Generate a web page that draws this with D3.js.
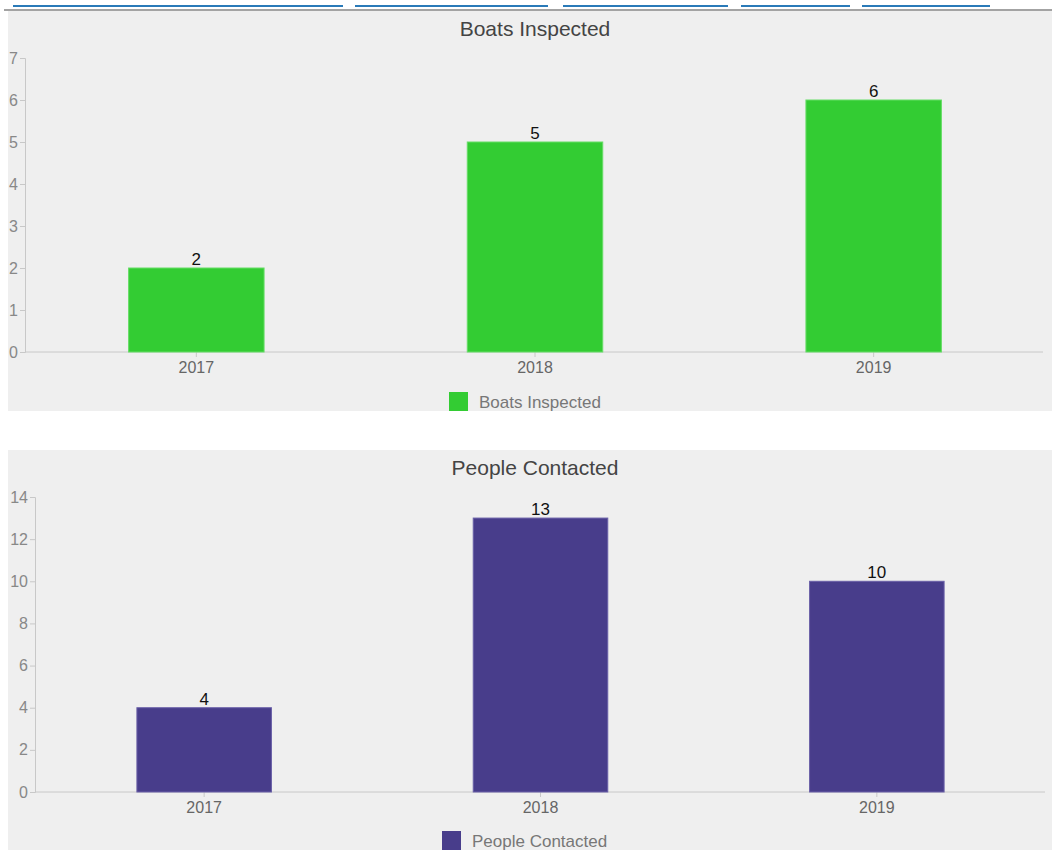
<!DOCTYPE html>
<html>
<head>
<meta charset="utf-8">
<script src="https://cdn.jsdelivr.net/npm/d3@7"></script>
<style>
  body { margin: 0; background: #fff; font-family: "Liberation Sans", Arial, sans-serif; }
  svg { display: block; }
</style>
</head>
<body>
<svg id="root" width="1052" height="850"></svg>
<script>
(function() {
  // Data
  const years = ["2017", "2018", "2019"];
  const boatsInspected = [2, 5, 6];
  const peopleContacted = [4, 13, 10];
  const boatsTicks = [0, 1, 2, 3, 4, 5, 6, 7];
  const peopleTicks = [0, 2, 4, 6, 8, 10, 12, 14];
  const tabSegments = [[13, 343], [355, 548], [563, 728], [741, 850], [862, 990]];

  const svg = d3.select("#root");
  const font = "Liberation Sans, Arial, sans-serif";

  // Tab strip on top
  svg
    .selectAll(".tab")
    .data(tabSegments)
    .join("line")
    .attr("class", "tab")
    .attr("x1", d => d[0])
    .attr("x2", d => d[1])
    .attr("y1", 6)
    .attr("y2", 6)
    .attr("stroke", "#2a7ab8")
    .attr("stroke-width", 2);
  svg
    .append("line")
    .attr("x1", 4)
    .attr("x2", 1052)
    .attr("y1", 10)
    .attr("y2", 10)
    .attr("stroke", "#a3a3a3")
    .attr("stroke-width", 2);

  drawChart({
    top: 11,
    title: "Boats Inspected",
    values: boatsInspected,
    ticks: boatsTicks,
    color: "#33cc33",
    stroke: "#66dd66",
    axisX: 25,
    axisBottom: 352,
    axisTop: 58,
    range: [27, 1043],
    legendX: 449
  });

  drawChart({
    top: 450,
    title: "People Contacted",
    values: peopleContacted,
    ticks: peopleTicks,
    color: "#483d8b",
    stroke: "#6a60a8",
    axisX: 35,
    axisBottom: 792,
    axisTop: 497,
    range: [36, 1045],
    legendX: 442
  });

  function drawChart(c) {
    const g = svg.append("g");
    g.append("rect")
      .attr("x", 8)
      .attr("y", c.top)
      .attr("width", 1044)
      .attr("height", 400)
      .attr("fill", "#efefef");

    g.append("text")
      .attr("x", 535)
      .attr("y", c.top + 25)
      .attr("text-anchor", "middle")
      .attr("font-size", 21)
      .attr("fill", "#444")
      .text(c.title);

    const x = d3
      .scaleBand()
      .domain(years)
      .range(c.range);
    const y = d3
      .scaleLinear()
      .domain([0, d3.max(c.ticks)])
      .range([c.axisBottom, c.axisTop]);
    const barWidth = x.bandwidth() * 0.4;

    g.append("g")
      .attr("transform", `translate(${c.axisX},0)`)
      .call(
        d3.axisLeft(y)
          .tickValues(c.ticks)
          .tickFormat(d3.format("d"))
          .tickSize(5)
          .tickPadding(2)
      )
      .call(a => a.select(".domain").attr("stroke", "#c8c8c8"))
      .call(a => a.selectAll(".tick line").attr("stroke", "#c8c8c8"))
      .call(a =>
        a.selectAll(".tick text")
          .attr("fill", "#888")
          .attr("font-size", 16)
          .attr("font-family", font)
      );

    g.append("g")
      .attr("transform", `translate(0,${c.axisBottom})`)
      .call(d3.axisBottom(x).tickSize(5).tickSizeOuter(0).tickPadding(5))
      .call(a => a.select(".domain").attr("stroke", "#c8c8c8").attr("d", `M${c.axisX},0H${c.range[1]}`))
      .call(a => a.selectAll(".tick line").attr("stroke", "#c8c8c8"))
      .call(a =>
        a.selectAll(".tick text")
          .attr("fill", "#666")
          .attr("font-size", 16)
          .attr("font-family", font)
      );

    const data = years.map((year, i) => ({ year, value: c.values[i] }));

    g.append("g")
      .selectAll("rect")
      .data(data)
      .join("rect")
      .attr("x", d => x(d.year) + (x.bandwidth() - barWidth) / 2)
      .attr("y", d => y(d.value))
      .attr("width", barWidth)
      .attr("height", d => y(0) - y(d.value))
      .attr("fill", c.color)
      .attr("stroke", c.stroke)
      .attr("stroke-width", 1);

    g.append("g")
      .selectAll("text")
      .data(data)
      .join("text")
      .attr("x", d => x(d.year) + x.bandwidth() / 2)
      .attr("y", d => y(d.value) - 3)
      .attr("text-anchor", "middle")
      .attr("font-size", 17)
      .attr("fill", "#111")
      .text(d => d.value);

    // Legend
    const legend = g
      .append("g")
      .attr("transform", `translate(${c.legendX},${c.top + 381})`);
    legend
      .append("rect")
      .attr("width", 19)
      .attr("height", 19)
      .attr("fill", c.color);
    legend
      .append("text")
      .attr("x", 30)
      .attr("y", 10)
      .attr("dy", "0.35em")
      .attr("font-size", 17)
      .attr("fill", "#777")
      .text(c.title);
  }
})();
</script>
</body>
</html>
